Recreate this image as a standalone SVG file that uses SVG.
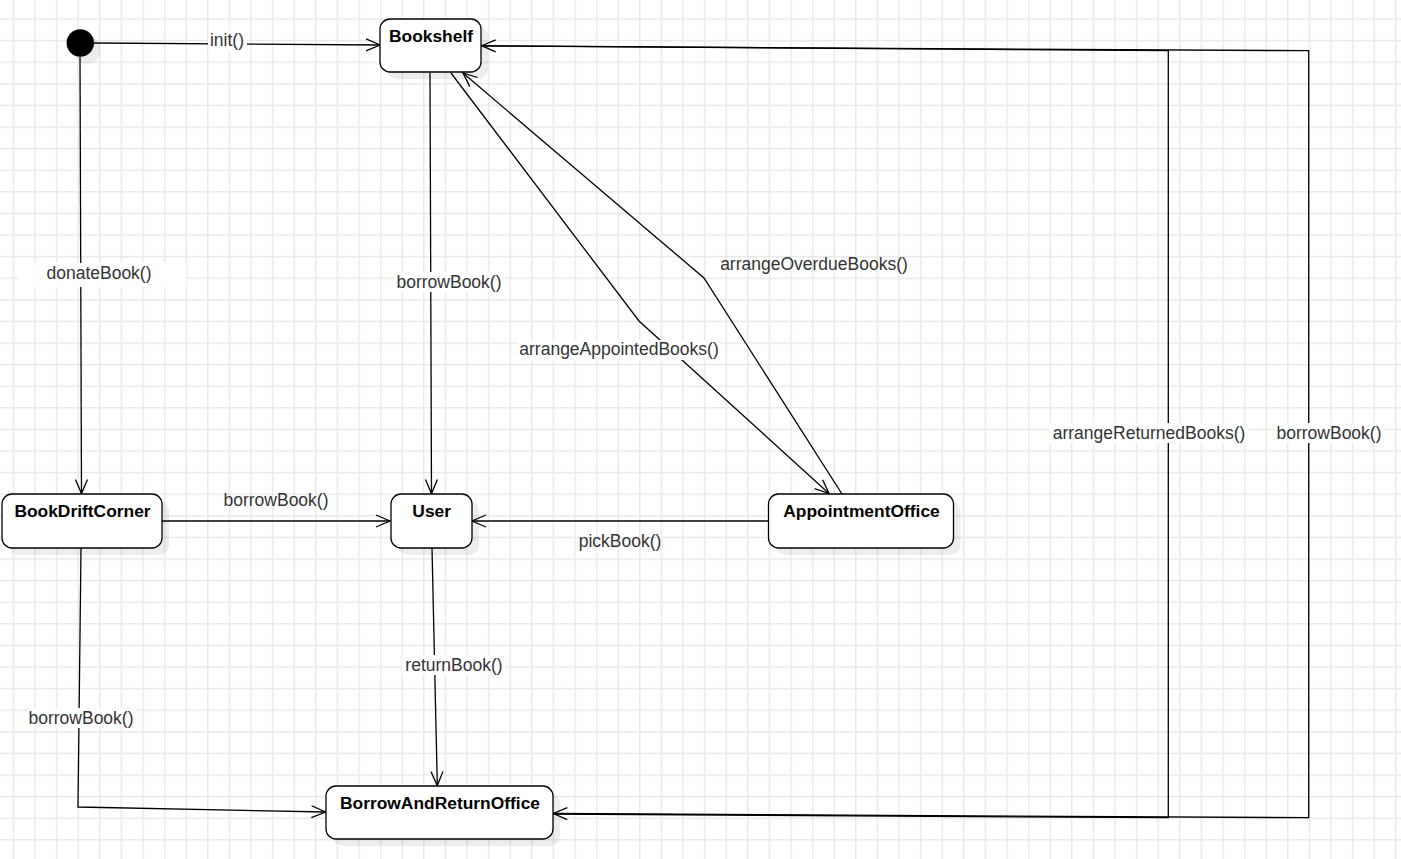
<svg xmlns="http://www.w3.org/2000/svg" width="1401" height="859" viewBox="0 0 1401 859">
<style>
.node rect.box{fill:#fff;stroke:#000;stroke-width:1.3}
.node rect.sh{fill:#000;fill-opacity:0.07}
.node text{font-family:"Liberation Sans",Arial,sans-serif;font-size:17.4px;font-weight:bold;fill:#000;text-anchor:middle}
.edge{fill:none;stroke:#000;stroke-width:1.3}
.lbl text{font-family:"Liberation Sans",Arial,sans-serif;font-size:17.5px;fill:#333;text-anchor:middle}
.lbl rect{fill:#fff}
</style>
<defs>
<pattern id="grid" x="12.67" y="18.3" width="21.6" height="21.6" patternUnits="userSpaceOnUse">
<rect x="0" y="0" width="21.6" height="21.6" fill="#fff"/>
<rect x="0" y="0" width="1.4" height="21.6" fill="#e8e8e8"/>
<rect x="0" y="0" width="21.6" height="1.4" fill="#e8e8e8"/>
</pattern>
<marker id="arr" markerUnits="userSpaceOnUse" viewBox="-16 -8 18 16" markerWidth="18" markerHeight="16" refX="0" refY="0" orient="auto" overflow="visible">
<path d="M-14,-6 L0,0 L-14,6" fill="none" stroke="#000" stroke-width="1.3"/>
</marker>
</defs>
<rect x="0" y="0" width="1401" height="859" fill="url(#grid)"/>

<g id="connectors">
<path class="edge" d="M94,43 L380,45" marker-end="url(#arr)"/>
<path class="edge" d="M80,57 L81.5,493.5" marker-end="url(#arr)"/>
<path class="edge" d="M430,73 L431.5,493.5" marker-end="url(#arr)"/>
<path class="edge" d="M451,73 L639,321 L829,493.5" marker-end="url(#arr)"/>
<path class="edge" d="M842,494 L704,278 L463,73" marker-end="url(#arr)"/>
<path class="edge" d="M162,521 L390,521" marker-end="url(#arr)"/>
<path class="edge" d="M768,521 L472,521" marker-end="url(#arr)"/>
<path class="edge" d="M432,548 L437.3,785.5" marker-end="url(#arr)"/>
<path class="edge" d="M81,548 L78,807 L325.5,812" marker-end="url(#arr)"/>
<path class="edge" d="M553,814 L1168.3,817.7 L1168.3,50.7 L481.7,45.7" marker-end="url(#arr)"/>
<path class="edge" d="M481.7,46 L1308.7,50.7 L1308.7,817.7 L553.3,813.5" marker-end="url(#arr)"/>
</g>

<g id="labels" class="lbl">
<rect x="208" y="31" width="39" height="20"/><text x="227" y="46">init()</text>
<rect x="18" y="263" width="168" height="24"/><text x="99" y="279">donateBook()</text>
<rect x="395" y="272" width="110" height="20"/><text x="449" y="288">borrowBook()</text>
<rect x="518" y="340" width="202" height="20"/><text x="619" y="355">arrangeAppointedBooks()</text>
<text x="814" y="270">arrangeOverdueBooks()</text>
<text x="276" y="506">borrowBook()</text>
<text x="620" y="547">pickBook()</text>
<rect x="402" y="655" width="104" height="20"/><text x="454" y="671">returnBook()</text>
<rect x="27" y="708" width="108" height="20"/><text x="81" y="724">borrowBook()</text>
<rect x="1049" y="423" width="200" height="20"/><text x="1149" y="439">arrangeReturnedBooks()</text>
<rect x="1275" y="423" width="108" height="20"/><text x="1329" y="439">borrowBook()</text>
</g>

<g id="initial" class="node">
<circle cx="87" cy="50" r="13.7" fill="#000" fill-opacity="0.07"/>
<circle cx="80.3" cy="43" r="13.7" fill="#000"/>
</g>
<g id="Bookshelf" class="node">
<rect class="sh" x="387" y="26" width="101" height="53" rx="10"/>
<rect class="box" x="380" y="19" width="101" height="53" rx="10"/>
<text x="431" y="42">Bookshelf</text>
</g>
<g id="BookDriftCorner" class="node">
<rect class="sh" x="9" y="501" width="160" height="54" rx="10"/>
<rect class="box" x="2" y="494" width="160" height="54" rx="10"/>
<text x="82.5" y="517">BookDriftCorner</text>
</g>
<g id="User" class="node">
<rect class="sh" x="398" y="501" width="81" height="54" rx="10"/>
<rect class="box" x="391" y="494" width="81" height="54" rx="10"/>
<text x="431.7" y="517">User</text>
</g>
<g id="AppointmentOffice" class="node">
<rect class="sh" x="775.5" y="501" width="185" height="54" rx="10"/>
<rect class="box" x="768.5" y="494" width="185" height="54" rx="10"/>
<text x="861.5" y="517">AppointmentOffice</text>
</g>
<g id="BorrowAndReturnOffice" class="node">
<rect class="sh" x="333" y="793" width="227" height="53" rx="10"/>
<rect class="box" x="326" y="786" width="227" height="53" rx="10"/>
<text x="440" y="809">BorrowAndReturnOffice</text>
</g>
</svg>
